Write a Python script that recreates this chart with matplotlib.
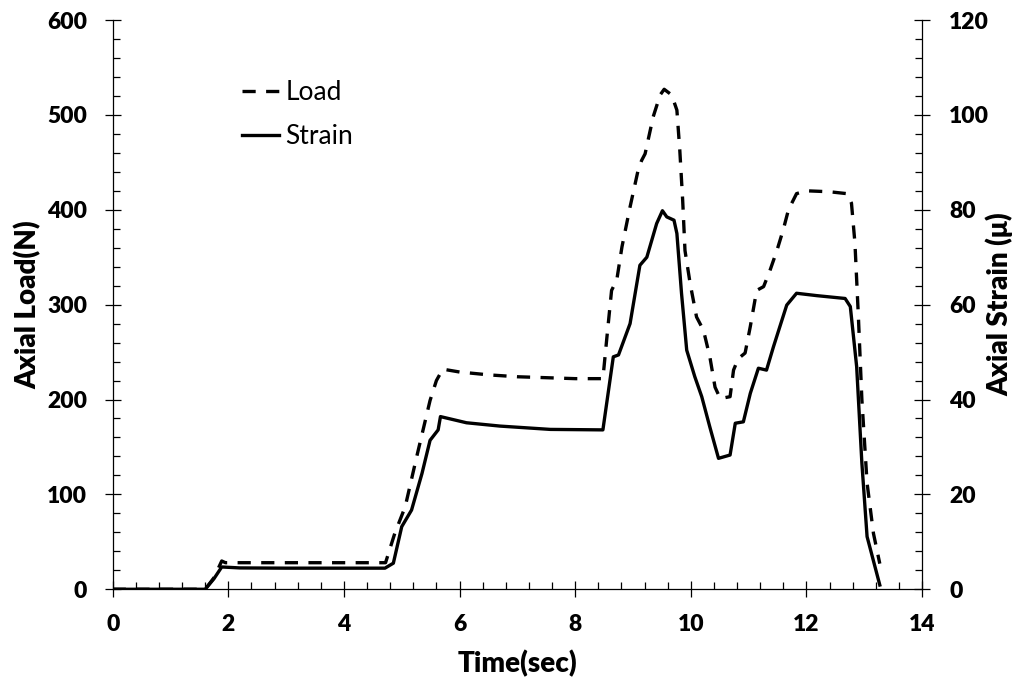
import matplotlib
matplotlib.use("Agg")
import matplotlib.pyplot as plt
from matplotlib.ticker import MultipleLocator

plt.rcParams['font.family'] = ['Lato', 'DejaVu Sans']
plt.rcParams['lines.scale_dashes'] = False

# Load (N) vs time (s)
load_t = [0.0, 1.60, 1.75, 1.886, 1.95, 3.0, 4.0, 4.72, 4.88, 5.06, 5.26, 5.49, 5.60, 5.71,
          6.0, 6.5, 7.0, 7.5, 8.0, 8.48, 8.55, 8.63, 8.72, 8.81, 8.95, 9.09, 9.15, 9.21,
          9.35, 9.47, 9.54, 9.67, 9.76, 9.81, 9.86, 9.90, 9.99, 10.10, 10.22, 10.33,
          10.42, 10.51, 10.68, 10.74, 10.82, 10.94, 11.03, 11.14, 11.26, 11.37, 11.49,
          11.60, 11.69, 11.83, 12.0, 12.4, 12.70, 12.78, 12.84, 12.90, 12.96, 13.05,
          13.16, 13.27]
load_v = [0, 0, 12, 29.8, 28, 28, 28, 28, 59, 87, 140, 199, 220, 232,
          229, 226, 224, 223, 222, 222, 266, 315, 326, 361, 403, 442, 452, 459,
          498, 521, 527, 521, 505, 463, 410, 357, 322, 287, 273, 245,
          213, 201, 203, 231, 243, 249, 277, 315, 319, 336, 357,
          379, 400, 417, 420, 419, 417, 407, 365, 287, 200, 112,
          59, 27]

# Strain (micro-strain) vs time (s)
strain_t = [0.0, 1.60, 1.75, 1.886, 2.2, 3.0, 4.0, 4.71, 4.855, 5.0, 5.17, 5.35, 5.49,
            5.63, 5.67, 6.12, 6.70, 7.57, 8.48, 8.66, 8.75, 8.95, 9.12, 9.24, 9.41,
            9.51, 9.585, 9.71, 9.76, 9.84, 9.93, 10.07, 10.19, 10.33, 10.48, 10.68,
            10.77, 10.91, 11.03, 11.17, 11.31, 11.43, 11.55, 11.66, 11.83, 12.18,
            12.67, 12.76, 12.87, 12.96, 13.05, 13.27]
strain_v = [0, 0, 2.2, 4.7, 4.5, 4.45, 4.45, 4.45, 5.5, 13.2, 16.7, 24.4, 31.4,
            33.6, 36.4, 35.1, 34.4, 33.7, 33.6, 49.0, 49.4, 56.0, 68.3, 70.0, 77.1,
            79.8, 78.5, 77.8, 75.0, 62.4, 50.4, 44.8, 40.6, 34.2, 27.6, 28.3,
            35.0, 35.3, 41.3, 46.6, 46.2, 51.1, 55.7, 59.9, 62.4, 61.9,
            61.3, 59.6, 46.9, 26.6, 11.1, 0.9]

x_ticks = [0, 2, 4, 6, 8, 10, 12, 14]
load_ticks = [0, 100, 200, 300, 400, 500, 600]
strain_ticks = [0, 20, 40, 60, 80, 100, 120]

fig = plt.figure(figsize=(10.19, 6.81), dpi=100)
ax = fig.add_axes([0.1106, 0.1347, 0.9048 - 0.1106, 0.9706 - 0.1347])
ax2 = ax.twinx()

lw = 2.4
l1, = ax.plot(load_t, load_v, color='black', lw=lw, dashes=(9.5, 7.5), label='Load')
l2, = ax2.plot(strain_t, strain_v, color='black', lw=lw, label='Strain')

ax.set_xlim(0, 14)
ax.set_ylim(0, 600)
ax2.set_ylim(0, 120)
ax.set_xticks(x_ticks)
ax.set_yticks(load_ticks)
ax2.set_yticks(strain_ticks)
ax.xaxis.set_minor_locator(MultipleLocator(0.4))
ax.yaxis.set_minor_locator(MultipleLocator(20))
ax2.yaxis.set_minor_locator(MultipleLocator(4))

for a in (ax, ax2):
    a.spines['top'].set_visible(False)
    for s in a.spines.values():
        s.set_linewidth(0.9)
ax.spines['right'].set_visible(False)
ax2.spines['left'].set_visible(False)
ax2.spines['bottom'].set_visible(False)

tfs = 16.5
ax.tick_params(axis='x', which='major', direction='inout', length=11, width=0.9,
               labelsize=tfs, pad=12.5)
ax.tick_params(axis='y', which='major', direction='inout', length=11, width=0.9,
               labelsize=tfs, pad=13)
ax.tick_params(axis='both', which='minor', direction='in', length=5, width=0.9)
ax2.tick_params(axis='y', which='major', direction='inout', length=11, width=0.9,
                labelsize=tfs, pad=14)
ax2.tick_params(axis='y', which='minor', direction='in', length=5, width=0.9)
for lab in ax.get_xticklabels() + ax.get_yticklabels() + ax2.get_yticklabels():
    lab.set_fontweight(800)

ax.set_xlabel('Time(sec)', fontsize=20, fontweight=800)
ax.set_ylabel('Axial Load(N)', fontsize=20, fontweight=800)
ax2.set_ylabel('Axial Strain (μ)', fontsize=20, fontweight=800)
ax.xaxis.set_label_coords(0.5002, -0.107)
ax.yaxis.set_label_coords(-0.0877, 0.5)
ax2.yaxis.set_label_coords(1.0785, 0.5)

leg = ax.legend(handles=[l1, l2], loc='upper left', bbox_to_anchor=(0.1594, 0.8945),
                frameon=False, fontsize=19, handlelength=1.4, handletextpad=0.25,
                labelspacing=0.72, borderpad=0, borderaxespad=0)

fig.savefig('out.png', dpi=100)
